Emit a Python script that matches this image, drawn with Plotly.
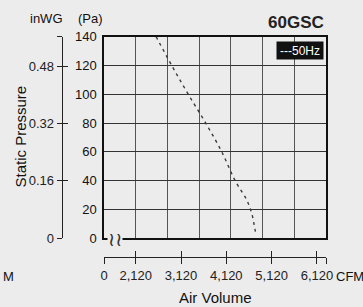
import plotly.graph_objects as go

W, H = 363, 307
BG = "#ececec"

# data
cfm_50hz = [2570, 2915, 3280, 3665, 4020, 4315, 4570, 4680, 4735, 4775]
pa_50hz = [140, 120, 100, 80, 60, 40, 26.6, 17.4, 9.2, 2.3]

pa_ticks = [0, 20, 40, 60, 80, 100, 120, 140]
inwg_vals = [0, 0.16, 0.32, 0.48, 140 / 249.089]
inwg_text = ["0", "0.16", "0.32", "0.48", ""]
cfm_tickvals = [1420, 2120, 3120, 4120, 5120, 6120, 6320]
cfm_ticktext = ["0", "2,120", "3,120", "4,120", "5,120", "6,120", ""]
x_range = [1420, 6320]
grid_step = 700
inwg_max = 140 / 249.089

NARROW = "Liberation Sans Narrow, Arial Narrow, sans-serif"
SANS = "Liberation Sans, Arial, sans-serif"

def px(x):
    return x / W

def py(y):
    return 1 - y / H

xdom = [px(104), px(326)]
ydom = [py(238.3), py(36.7)]

fig = go.Figure()
fig.add_trace(go.Scatter(
    x=cfm_50hz, y=pa_50hz, mode="lines", name="50Hz",
    line=dict(color="#3a3a3a", width=1.4, dash="3px,4px", shape="spline"),
    showlegend=False, hoverinfo="skip"))
# empty hooks so that the extra axes are drawn
for xa, ya in [("x2", "y"), ("x3", "y"), ("x", "y2"), ("x", "y3")]:
    fig.add_trace(go.Scatter(x=[], y=[], xaxis=xa, yaxis=ya, showlegend=False,
                             hoverinfo="skip"))

fig.update_layout(
    width=W, height=H,
    margin=dict(l=0, r=0, t=0, b=0, autoexpand=False),
    paper_bgcolor=BG, plot_bgcolor=BG,
    showlegend=False,
    xaxis=dict(domain=xdom, range=x_range, tick0=1420, dtick=grid_step,
               showticklabels=False, ticks="", showgrid=True,
               gridcolor="#555555", gridwidth=1.2, zeroline=False,
               showline=True, linecolor="#111111", linewidth=1.5, mirror=True,
               automargin=False),
    yaxis=dict(domain=ydom, range=[0, 140], tickvals=pa_ticks,
               showgrid=True, gridcolor="#333333", gridwidth=1.2, zeroline=False,
               showline=True, linecolor="#111111", linewidth=1.5, mirror=True,
               ticks="", ticklabelstandoff=3, automargin=False,
               tickfont=dict(family=SANS, size=13, color="#111111")),
    xaxis2=dict(overlaying="x", anchor="free", position=py(257), range=x_range,
                tickvals=cfm_tickvals, ticktext=cfm_ticktext, side="bottom",
                showgrid=False, zeroline=False, showline=True, automargin=False,
                linecolor="#222222", linewidth=1.2, ticks="outside", ticklen=6,
                tickcolor="#222222", tickwidth=1.2,
                tickfont=dict(family=NARROW, size=13, color="#222222")),
    xaxis3=dict(overlaying="x", anchor="free", position=py(257), range=x_range,
                tickvals=cfm_tickvals, showticklabels=False, side="bottom",
                showgrid=False, zeroline=False, showline=False, automargin=False,
                ticks="inside", ticklen=6, tickcolor="#222222", tickwidth=1.2),
    yaxis2=dict(overlaying="y", anchor="free", position=px(61.7), side="left",
                range=[0, inwg_max], tickvals=inwg_vals, ticktext=inwg_text,
                showgrid=False, zeroline=False, showline=True, automargin=False,
                linecolor="#222222", linewidth=1.2, ticks="outside", ticklen=5,
                tickcolor="#222222", tickwidth=1.2,
                tickfont=dict(family=NARROW, size=13, color="#222222")),
    yaxis3=dict(overlaying="y", anchor="free", position=px(61.7), side="left",
                range=[0, inwg_max], tickvals=inwg_vals, showticklabels=False,
                showgrid=False, zeroline=False, showline=False, automargin=False,
                ticks="inside", ticklen=5, tickcolor="#222222", tickwidth=1.2),
)

def ann(text, x, y, size=13, family=SANS, color="#111111", xanchor="center", **kw):
    fig.add_annotation(text=text, x=px(x), y=py(y), xref="paper", yref="paper",
                       xanchor=xanchor, yanchor="middle",
                       showarrow=False, font=dict(family=family, size=size, color=color),
                       **kw)

ann("inWG", 46, 18)
ann("(Pa)", 90, 18)
ann("<b>60GSC</b>", 326, 22, size=17, family=NARROW, color="#222222", xanchor="right")
ann("Static Pressure", 19.5, 137, size=15, textangle=-90)
ann("Air Volume", 215, 297, size=15)
ann("CFM", 350, 276, size=13, family=NARROW)
ann("M", 8, 276, size=13, family=NARROW)
ann("---50Hz", 299.7, 50.5, size=12, family=NARROW, color="white",
    bgcolor="#111111", width=46, height=17, borderpad=0)
ann("≀≀", 114.5, 238.5, size=19, family="DejaVu Sans", color="#333333",
    bgcolor=BG, borderpad=0)

fig.write_html("out.html",
               config={"displayModeBar": False},
               post_script="document.body.style.margin='0px';"
                           "document.body.style.background='" + BG + "';")
